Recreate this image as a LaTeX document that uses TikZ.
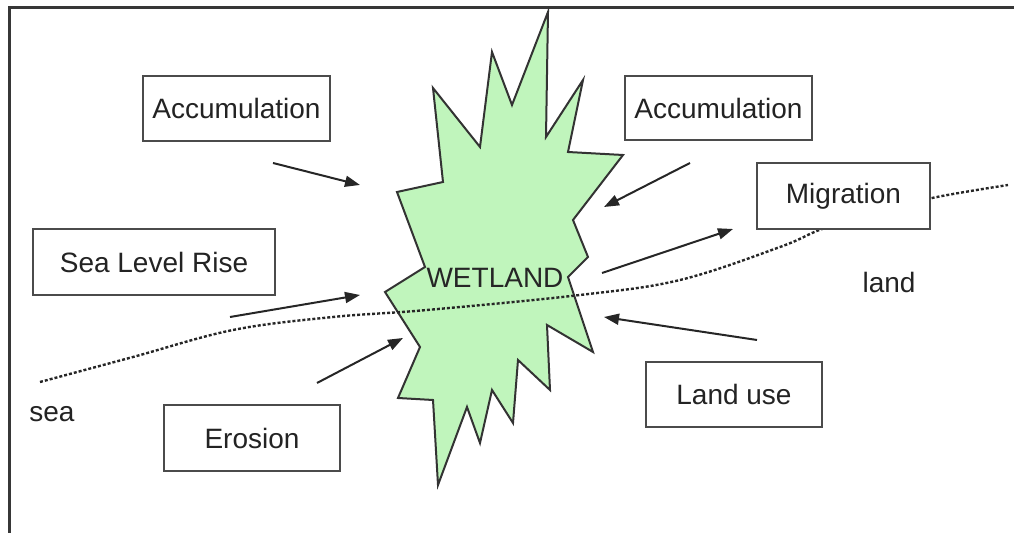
\documentclass[tikz,border=0pt]{standalone}
\usepackage{fontspec}
\setmainfont{Liberation Sans}
\usetikzlibrary{arrows.meta,positioning}

\definecolor{wetgreen}{RGB}{192,245,188}
\definecolor{framegray}{RGB}{55,55,55}
\definecolor{boxgray}{RGB}{75,75,75}
\definecolor{txtgray}{RGB}{35,35,35}

\begin{document}
\begin{tikzpicture}[x=0.5pt,y=-0.5pt,
    factor/.style={draw=boxgray, line width=1pt, fill=white, text=txtgray,
        font=\fontsize{14pt}{16pt}\selectfont, inner sep=0pt},
    push/.style={line width=1pt, draw=black!85, -{Triangle[length=7.5pt,width=5.5pt]}},
    lbl/.style={text=txtgray, font=\fontsize{14pt}{16pt}\selectfont, inner sep=0pt}]
    \useasboundingbox (0,0) rectangle (1014,533);
    % frame
    \draw[framegray, line width=1.5pt] (9,533) -- (9,8) -- (1014,8);
    % wetland star
    \draw[fill=wetgreen, draw=black!80, line width=1pt]
        (548,12) -- (546,137) -- (583,80) -- (568,152) -- (623,155) -- (573,220)
        -- (588,257) -- (568,277) -- (593,352) -- (547,325) -- (550,390)
        -- (518,360) -- (513,423) -- (492,390) -- (480,443) -- (467,407)
        -- (438,485) -- (433,400) -- (398,398) -- (420,347) -- (385,292)
        -- (425,267) -- (397,192) -- (443,182) -- (433,88) -- (480,147)
        -- (492,52) -- (512,105) -- cycle;
    % sea / land line
    \draw[black!85, line width=1.2pt, dash pattern=on 1.5pt off 1pt]
        plot[smooth, tension=0.6] coordinates {(40,382) (133,357) (233,330)
        (333,317) (427,310) (580,295) (680,280) (780,247) (822,229) (880,211)
        (937,197) (1008,185)};
    \node[lbl, text=black!85] (wet) at (495,278) {WETLAND};
    % boxes
    \node[factor, minimum width=93.5pt, minimum height=32.5pt] (accL) at (236.5,108.5) {Accumulation};
    \node[factor, minimum width=93.5pt, minimum height=32pt] (accR) at (718.5,108.5) {Accumulation};
    \node[factor, minimum width=86.5pt, minimum height=33pt] (migr) at (843.5,196) {Migration};
    \node[factor, minimum width=121pt, minimum height=33pt] (slr) at (154,262) {Sea Level Rise};
    \node[factor, minimum width=88pt, minimum height=32.5pt] (landuse) at (734,394.5) {Land use};
    \node[factor, minimum width=88pt, minimum height=33pt] (eros) at (252,438) {Erosion};
    \node[lbl] (sea) at (52,414) {sea};
    \node[lbl] (land) at (889,282) {land};
    % arrows
    \coordinate (accLs) at (273,163);  \coordinate (accLe) at (360,185);
    \coordinate (slrs) at (230,317);   \coordinate (slre) at (360,295);
    \coordinate (eross) at (317,383);  \coordinate (erose) at (403,338);
    \coordinate (accRs) at (690,163);  \coordinate (accRe) at (604,207);
    \coordinate (migrs) at (602,273);  \coordinate (migre) at (733,229);
    \coordinate (luses) at (757,340);  \coordinate (lusee) at (604,317);
    \draw[push] (accLs) -- (accLe);
    \draw[push] (slrs) -- (slre);
    \draw[push] (eross) -- (erose);
    \draw[push] (accRs) -- (accRe);
    \draw[push] (migrs) -- (migre);
    \draw[push] (luses) -- (lusee);
\end{tikzpicture}
\end{document}
